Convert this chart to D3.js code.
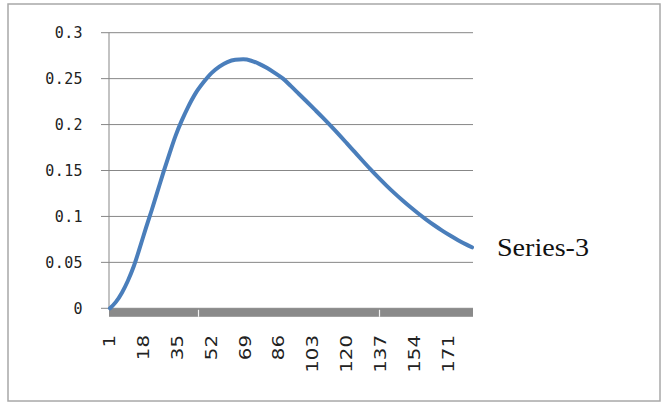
<!DOCTYPE html>
<html>
<head>
<meta charset="utf-8">
<script src="https://cdn.jsdelivr.net/npm/d3@7"></script>
<style>
  html, body { margin: 0; padding: 0; background: #fff; }
  svg { display: block; }
</style>
</head>
<body>
<svg id="chart" width="668" height="404"></svg>
<script>
// ---- data ----
const categoryCount = 183;
const categories = d3.range(1, categoryCount + 1);
const xTickLabels = [1, 18, 35, 52, 69, 86, 103, 120, 137, 154, 171];
const yTickValues = [0, 0.05, 0.1, 0.15, 0.2, 0.25, 0.3];
const yTickLabels = ["0", "0.05", "0.1", "0.15", "0.2", "0.25", "0.3"];
const axisMarkCategories = [46, 137];
const seriesName = "Series-3";
const seriesCategories = [1, 4, 7, 10, 13, 16, 19, 22, 25, 28, 31, 34, 37, 40, 44, 48, 52, 56, 60, 64, 68, 72, 76, 80, 84, 88,
  92, 96, 100, 104, 108, 112, 116, 120, 124, 128, 132, 136, 140, 144, 148, 152, 156, 160, 164, 168, 172, 176, 180, 183];
const seriesValues = [0.000, 0.007, 0.017, 0.030, 0.046, 0.066, 0.087, 0.107, 0.128, 0.149, 0.169, 0.188, 0.204, 0.218, 0.234, 0.246, 0.256, 0.263, 0.268, 0.2705, 0.271, 0.2695, 0.266, 0.2615, 0.256, 0.250,
  0.2418, 0.2333, 0.2248, 0.2162, 0.2075, 0.1985, 0.1893, 0.1798, 0.1702, 0.1606, 0.1512, 0.1422, 0.1336, 0.1254, 0.1176, 0.1102, 0.1032, 0.0966, 0.0904, 0.0846, 0.0792, 0.0742, 0.0696, 0.0664];

// ---- layout ----
const svg = d3.select("#chart");
const plotLeft = 109, plotRight = 473, plotTop = 32.7, plotBottom = 308.3;

svg.append("rect").attr("x", 8).attr("y", 4).attr("width", 652).attr("height", 397)
  .attr("fill", "#fff").attr("stroke", "#a8a8a8").attr("stroke-width", 1.5);

const x = d3.scaleBand().domain(categories).range([plotLeft, plotRight]).paddingInner(0).paddingOuter(0);
const bw = x.bandwidth();
const cx = c => x(c) + bw / 2;
const y = d3.scaleLinear().domain([0, 0.3]).range([plotBottom, plotTop]);

// gridlines + y tick marks
svg.append("g").selectAll("line").data(yTickValues).join("line")
  .attr("x1", plotLeft - 8).attr("x2", plotRight)
  .attr("y1", d => y(d)).attr("y2", d => y(d))
  .attr("stroke", "#878787").attr("stroke-width", 1);

// vertical axis
svg.append("line").attr("x1", plotLeft).attr("x2", plotLeft).attr("y1", plotTop).attr("y2", plotBottom)
  .attr("stroke", "#878787").attr("stroke-width", 1);

// y labels
svg.append("g").selectAll("text").data(yTickValues).join("text")
  .attr("transform", d => `translate(83,${y(d)}) scale(1,1.07)`)
  .attr("dy", "0.36em")
  .attr("text-anchor", "end")
  .style("font-family", "'DejaVu Sans Mono', monospace").style("font-size", "15px")
  .style("letter-spacing", "0.4px").attr("fill", "#222")
  .text((d, i) => yTickLabels[i]);

// x axis band (dense category tick marks)
svg.append("rect").attr("x", plotLeft).attr("y", plotBottom).attr("width", plotRight - plotLeft).attr("height", 8.5)
  .attr("fill", "#8a8a8a");
svg.append("g").selectAll("line").data(axisMarkCategories).join("line")
  .attr("x1", d => x(d)).attr("x2", d => x(d))
  .attr("y1", plotBottom + 1.5).attr("y2", plotBottom + 8.5)
  .attr("stroke", "#f2f2f2").attr("stroke-width", 1.2);

// x labels
svg.append("g").selectAll("text").data(xTickLabels).join("text")
  .attr("transform", d => `translate(${cx(d)},335) rotate(-90) scale(1.32,1)`)
  .attr("dy", "0.36em")
  .attr("text-anchor", "end")
  .style("font-family", "'DejaVu Sans', sans-serif").style("font-size", "15px")
  .attr("fill", "#222")
  .text(d => d);

// series line
const pts = seriesCategories.map((c, i) => ({ c, v: seriesValues[i] }));
const line = d3.line().x(d => cx(d.c)).y(d => y(d.v)).curve(d3.curveMonotoneX);
svg.append("path").datum(pts).attr("d", line)
  .attr("fill", "none").attr("stroke", "#4a7ebb").attr("stroke-width", 4)
  .attr("stroke-linecap", "round").attr("stroke-linejoin", "round");

// series name label
const last = pts[pts.length - 1];
svg.append("text")
  .attr("x", cx(last.c) + 25).attr("y", y(last.v) + 8.5)
  .style("font-family", "'Liberation Serif', 'Times New Roman', serif").style("font-size", "25px")
  .attr("textLength", 92).attr("lengthAdjust", "spacingAndGlyphs")
  .attr("fill", "#111")
  .text(seriesName);
</script>
</body>
</html>
